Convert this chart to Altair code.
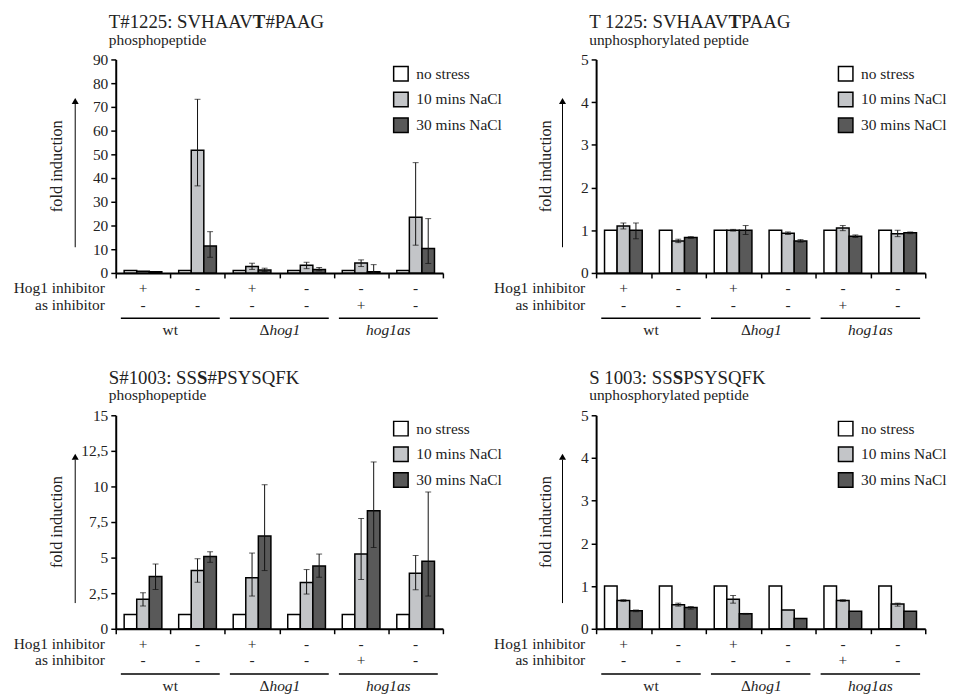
import altair as alt
import pandas as pd

FONT = "Liberation Serif"
TXT = "#222222"

# ---------------- data ----------------
groups = ["g1", "g2", "g3", "g4", "g5", "g6"]
series = ["no stress", "10 mins NaCl", "30 mins NaCl"]
fills = ["#ffffff", "#c3c5c8", "#595959"]
hog1_inhibitor = ["+", "-", "+", "-", "-", "-"]
as_inhibitor = ["-", "-", "-", "-", "+", "-"]
strain_ids = ["s1", "s2", "s3"]
strain_pre = ["", "\u0394", ""]
strain_name = ["wt", "hog1", "hog1as"]
strain_italic = [False, True, True]
no_stress = [1, 1, 1, 1, 1, 1]

# panel A: T#1225 phosphopeptide
a_m10 = [0.7, 51.7, 2.7, 3.2, 4.2, 23.5]
a_lo10 = [None, 36.7, 1.5, 1.8, 2.7, 11.7]
a_hi10 = [None, 73.2, 4.1, 4.5, 5.5, 46.5]
a_m30 = [0.5, 11.4, 1.2, 1.5, 0.5, 10.3]
a_lo30 = [None, 6.6, 0.6, 0.9, 0.0, 4.0]
a_hi30 = [None, 17.4, 2.0, 2.3, 3.5, 22.9]

# panel B: T 1225 unphosphorylated
b_m10 = [1.10, 0.75, 1.00, 0.93, 1.05, 0.92]
b_lo10 = [1.03, 0.71, 0.98, 0.90, 0.99, 0.85]
b_hi10 = [1.17, 0.79, 1.02, 0.96, 1.11, 1.00]
b_m30 = [1.00, 0.83, 1.00, 0.75, 0.86, 0.94]
b_lo30 = [0.80, 0.81, 0.90, 0.72, 0.83, 0.92]
b_hi30 = [1.17, 0.85, 1.11, 0.78, 0.89, 0.96]

# panel C: S#1003 phosphopeptide
c_m10 = [2.07, 4.09, 3.58, 3.25, 5.25, 3.90]
c_lo10 = [1.60, 3.27, 2.30, 2.44, 3.46, 2.74]
c_hi10 = [2.53, 4.92, 5.32, 4.16, 7.75, 5.15]
c_m30 = [3.67, 5.08, 6.52, 4.41, 8.29, 4.74]
c_lo30 = [2.76, 4.67, 4.09, 3.62, 5.71, 2.30]
c_hi30 = [4.55, 5.41, 10.12, 5.25, 11.72, 9.61]

# panel D: S 1003 unphosphorylated
d_m10 = [0.66, 0.56, 0.69, 0.44, 0.66, 0.58]
d_lo10 = [0.64, 0.53, 0.60, None, 0.64, 0.53]
d_hi10 = [0.68, 0.60, 0.78, None, 0.68, 0.60]
d_m30 = [0.42, 0.50, 0.35, 0.24, 0.41, 0.41]
d_lo30 = [0.40, 0.46, 0.34, None, None, None]
d_hi30 = [0.44, 0.52, 0.36, None, None, None]

titles = [
    ("T#1225: SVHAAV", "T", "#PAAG", "phosphopeptide"),
    ("T 1225: SVHAAV", "T", "PAAG", "unphosphorylated peptide"),
    ("S#1003: SS", "S", "#PSYSQFK", "phosphopeptide"),
    ("S 1003: SS", "S", "PSYSQFK", "unphosphorylated peptide"),
]
y_max = [90, 5, 15, 5]
y_ticks = [
    [0, 10, 20, 30, 40, 50, 60, 70, 80, 90],
    [0, 1, 2, 3, 4, 5],
    [0, 2.5, 5, 7.5, 10, 12.5, 15],
    [0, 1, 2, 3, 4, 5],
]

# Times / Liberation Serif advance widths (per 1000 em) for title layout
REG = {"T": 611, "#": 500, "1": 500, "2": 500, "5": 500, "0": 500, "3": 500,
       ":": 278, " ": 250, "S": 556, "V": 722, "H": 722, "A": 722}
BOLD = {"T": 667, "S": 556}
KERN = {"AV": -135}
TITLE_SIZE = 19
FS = 15.6


def text_width(s, table, size):
    w = sum(table[c] for c in s)
    for i in range(len(s) - 1):
        w += KERN.get(s[i:i + 2], 0)
    return w * size / 1000.0


def panel(m10, lo10, hi10, m30, lo30, hi30, ymax, yticks, tparts,
          W, H, ytitle_dx, arrow_dx, legend_x, legend_y):
    rows, errs = [], []
    for i, g in enumerate(groups):
        rows.append({"group": g, "series": series[0], "value": no_stress[i]})
        rows.append({"group": g, "series": series[1], "value": m10[i]})
        rows.append({"group": g, "series": series[2], "value": m30[i]})
        if lo10[i] is not None:
            errs.append({"group": g, "series": series[1], "lo": lo10[i], "hi": hi10[i]})
        if lo30[i] is not None:
            errs.append({"group": g, "series": series[2], "lo": lo30[i], "hi": hi30[i]})
    df = pd.DataFrame(rows)
    de = pd.DataFrame(errs)
    dann = pd.DataFrame({"group": groups, "hog1": hog1_inhibitor, "asi": as_inhibitor})
    dstr = pd.DataFrame({"strain": strain_ids, "pre": strain_pre,
                         "name": strain_name, "ital": strain_italic})
    one = pd.DataFrame({"k": [0]})

    xscale = alt.Scale(domain=groups, paddingInner=0, paddingOuter=0)
    xaxis = alt.Axis(title=None, labels=False, tickBand="extent", grid=False,
                     domainColor="black", domainWidth=2, tickColor="black",
                     tickWidth=1.5, tickSize=5)
    yaxis = alt.Axis(values=yticks, title=None, grid=False,
                     domainColor="black", domainWidth=2, tickColor="black",
                     tickWidth=1.5, tickSize=5, labelFont=FONT,
                     labelFontSize=FS, labelColor=TXT, labelPadding=3,
                     labelOverlap=False, labelFlush=False,
                     labelExpr="replace(toString(datum.value), '.', ',')")
    xg = alt.X("group:N", sort=groups, scale=xscale, axis=xaxis)
    xo = alt.XOffset("series:N", sort=series,
                     scale=alt.Scale(domain=series, paddingInner=0, paddingOuter=0.67))
    yscale = alt.Scale(domain=[0, ymax], nice=False, zero=True)

    bars = alt.Chart(df).mark_bar(stroke="black", strokeWidth=1.5).encode(
        x=xg,
        xOffset=xo,
        y=alt.Y("value:Q", scale=yscale, axis=yaxis),
        fill=alt.Fill("series:N", sort=series,
                      scale=alt.Scale(domain=series, range=fills),
                      legend=alt.Legend(title=None, orient="none", legendX=legend_x,
                                        legendY=legend_y, symbolType="square",
                                        symbolSize=215, symbolStrokeColor="black",
                                        symbolStrokeWidth=1.5, labelFont=FONT,
                                        labelFontSize=FS, labelColor=TXT,
                                        rowPadding=5, labelOffset=7)),
    )
    ebar = alt.Chart(de).mark_rule(color="#111111", strokeWidth=1).encode(
        x=xg, xOffset=xo, y=alt.Y("lo:Q", scale=yscale, axis=yaxis), y2="hi:Q")
    cap_hi = alt.Chart(de).mark_tick(orient="horizontal", size=6, thickness=1,
                                     color="#111111").encode(
        x=xg, xOffset=xo, y=alt.Y("hi:Q", scale=yscale, axis=yaxis))
    cap_lo = alt.Chart(de).mark_tick(orient="horizontal", size=6, thickness=1,
                                     color="#111111").encode(
        x=xg, xOffset=xo, y=alt.Y("lo:Q", scale=yscale, axis=yaxis))

    tstyle = dict(font=FONT, fontSize=FS, color=TXT)
    row1 = alt.Chart(dann).mark_text(baseline="middle", **tstyle).encode(
        x=xg, y=alt.value(H + 15), text="hog1:N")
    row2 = alt.Chart(dann).mark_text(baseline="middle", **tstyle).encode(
        x=xg, y=alt.value(H + 32), text="asi:N")
    lab1 = alt.Chart(one).mark_text(align="right", baseline="middle",
                                    text="Hog1 inhibitor", **tstyle).encode(
        x=alt.value(-11), y=alt.value(H + 15))
    lab2 = alt.Chart(one).mark_text(align="right", baseline="middle",
                                    text="as inhibitor", **tstyle).encode(
        x=alt.value(-11), y=alt.value(H + 32))

    # titles
    p1, pb, p2, sub = tparts
    x0 = -7
    w1 = text_width(p1, REG, TITLE_SIZE)
    wb = text_width(pb, BOLD, TITLE_SIZE)
    tt = dict(font=FONT, fontSize=TITLE_SIZE, color=TXT, align="left",
              baseline="alphabetic")
    t1 = alt.Chart(one).mark_text(text=p1, **tt).encode(x=alt.value(x0), y=alt.value(-32))
    t2 = alt.Chart(one).mark_text(text=pb, fontWeight="bold", **tt).encode(
        x=alt.value(x0 + w1), y=alt.value(-32))
    t3 = alt.Chart(one).mark_text(text=p2, **tt).encode(
        x=alt.value(x0 + w1 + wb), y=alt.value(-32))
    st = alt.Chart(one).mark_text(text=sub, font=FONT, fontSize=FS, color=TXT,
                                  align="left", baseline="alphabetic").encode(
        x=alt.value(x0), y=alt.value(-15))

    ytitle = alt.Chart(one).mark_text(text="fold induction", angle=270, font=FONT,
                                      fontSize=16.5, color=TXT, align="center",
                                      baseline="middle").encode(
        x=alt.value(ytitle_dx), y=alt.value(H / 2))
    arrow = alt.Chart(one).mark_rule(color="black", strokeWidth=1).encode(
        x=alt.value(arrow_dx), y=alt.value(190), y2=alt.value(45))
    head = alt.Chart(one).mark_point(shape="triangle-up", filled=True, size=50,
                                     color="black", opacity=1).encode(
        x=alt.value(arrow_dx), y=alt.value(42))

    inner = alt.layer(bars, ebar, cap_hi, cap_lo, row1, row2, lab1, lab2,
                      t1, t2, t3, st, ytitle, arrow, head)

    sscale = alt.Scale(domain=strain_ids, paddingInner=0.093, paddingOuter=0.047)
    xs = alt.X("strain:N", sort=strain_ids, scale=sscale, axis=None)
    uline = alt.Chart(dstr).mark_rect(color="black").encode(
        x=xs, y=alt.value(H + 45), y2=alt.value(H + 46.5))
    s_plain = alt.Chart(dstr).transform_filter("datum.pre == '' && !datum.ital").mark_text(
        baseline="middle", **tstyle).encode(x=xs, y=alt.value(H + 58), text="name:N")
    s_ital = alt.Chart(dstr).transform_filter("datum.pre == '' && datum.ital").mark_text(
        baseline="middle", fontStyle="italic", **tstyle).encode(
        x=xs, y=alt.value(H + 58), text="name:N")
    s_delta = alt.Chart(dstr).transform_filter("datum.pre != ''").mark_text(
        baseline="middle", align="right", dx=-10, **tstyle).encode(
        x=xs, y=alt.value(H + 58), text="pre:N")
    s_dname = alt.Chart(dstr).transform_filter("datum.pre != ''").mark_text(
        baseline="middle", align="left", dx=-10, fontStyle="italic", **tstyle).encode(
        x=xs, y=alt.value(H + 58), text="name:N")
    outer = alt.layer(uline, s_plain, s_ital, s_delta, s_dname)

    return alt.layer(inner, outer).resolve_scale(x="independent").properties(
        width=W, height=H)


pa = panel(a_m10, a_lo10, a_hi10, a_m30, a_lo30, a_hi30, y_max[0], y_ticks[0],
           titles[0], 331, 216, -59.5, -41, 280, 6)
pb = panel(b_m10, b_lo10, b_hi10, b_m30, b_lo30, b_hi30, y_max[1], y_ticks[1],
           titles[1], 333, 216, -51, -34, 244, 6)
pc = panel(c_m10, c_lo10, c_hi10, c_m30, c_lo30, c_hi30, y_max[2], y_ticks[2],
           titles[2], 331, 216, -59.5, -41, 280, 5)
pd_ = panel(d_m10, d_lo10, d_hi10, d_m30, d_lo30, d_hi30, y_max[3], y_ticks[3],
            titles[3], 333, 216, -51, -34, 244, 5)

res = dict(fill="independent", x="independent", y="independent")
chart = alt.concat(pa, pb, pc, pd_, columns=2, bounds="flush",
                   spacing={"row": 144, "column": 155}).resolve_scale(**res).resolve_legend(
    fill="independent").properties(
    padding={"left": 5, "top": 1, "right": 0, "bottom": 0},
    background="white",
).configure_view(stroke=None)

chart.save("out.html", embed_options={"renderer": "svg", "actions": False})
